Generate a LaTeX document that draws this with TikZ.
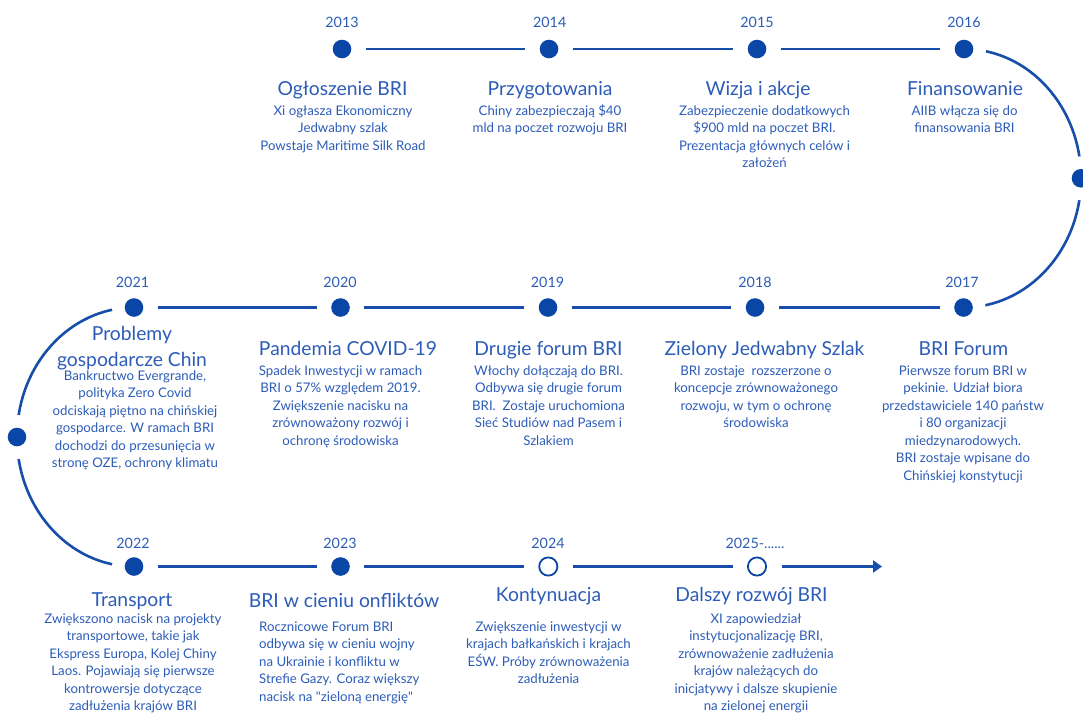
\documentclass[tikz,border=0pt]{standalone}
\usepackage{fontspec}
\setmainfont{Lato}
\usetikzlibrary{arrows.meta}
\definecolor{txt}{RGB}{44,92,184}
\definecolor{dotc}{RGB}{10,70,166}
\definecolor{linec}{RGB}{22,78,170}
\pgfdeclarelayer{bg}
\pgfsetlayers{bg,main}
\tikzset{
  yearlbl/.style={font=\fontsize{14.3}{16}\selectfont, text=txt, anchor=base, inner sep=0pt},
  ttl/.style={font=\fontsize{19.3}{26}\selectfont, text=txt, anchor=base, align=center, inner sep=0pt},
  bodytxt/.style={font=\fontsize{13.25}{17.5}\selectfont, text=txt, anchor=base, align=center, inner sep=0pt},
  fdot/.style={circle, fill=dotc, minimum size=18.6, inner sep=0pt, outer sep=0pt},
  hdot/.style={circle, draw=dotc, line width=1.8pt, minimum size=18.2, inner sep=0pt},
  conn/.style={draw=linec, line width=2.6pt, shorten <=14.5pt, shorten >=14.5pt},
  arc/.style={draw=linec, line width=2.6pt},
  halo/.style={fill=white}
}
\begin{document}
\begin{tikzpicture}[x=1pt,y=-1pt]
\useasboundingbox (0,0) rectangle (1083,716);
% ---------- dots ----------
\node[fdot] (d2013) at (342,49) {};
\node[fdot] (d2014) at (549,49) {};
\node[fdot] (d2015) at (757,49) {};
\node[fdot] (d2016) at (964,49) {};
\node[fdot] (dR) at (1081,178.25) {};
\node[fdot] (d2017) at (963.5,307.5) {};
\node[fdot] (d2018) at (755,307.5) {};
\node[fdot] (d2019) at (548,307.5) {};
\node[fdot] (d2020) at (340.5,307.5) {};
\node[fdot] (d2021) at (134,307.5) {};
\node[fdot] (dL) at (17,437) {};
\node[fdot] (d2022) at (134,566.5) {};
\node[fdot] (d2023) at (340.5,566.5) {};
\node[hdot] (d2024) at (548.3,566.5) {};
\node[hdot] (d2025) at (757,566.5) {};
\coordinate (arrowend) at (882,566.5);
% ---------- straight connectors ----------
\draw[conn] (d2013) -- (d2014);
\draw[conn] (d2014) -- (d2015);
\draw[conn] (d2015) -- (d2016);
\draw[conn] (d2017) -- (d2018);
\draw[conn] (d2018) -- (d2019);
\draw[conn] (d2019) -- (d2020);
\draw[conn] (d2020) -- (d2021);
\draw[conn] (d2022) -- (d2023);
\draw[conn] (d2023) -- (d2024);
\draw[conn] (d2024) -- (d2025);
\draw[conn, shorten >=0pt, -{Triangle[length=9pt,width=12pt]}] (d2025) -- (arrowend);
% ---------- curved connectors ----------
\begin{pgfonlayer}{bg}
\draw[arc] (d2016.center) .. controls +(64.6,0) and +(0,-71.4) .. (dR.center);
\draw[arc] (dR.center) .. controls +(0,71.4) and +(64.6,0) .. (d2017.center);
\draw[arc] (d2021.center) .. controls +(-64.6,0) and +(0,-71.5) .. (dL.center);
\draw[arc] (dL.center) .. controls +(0,71.5) and +(-64.6,0) .. (d2022.center);
\foreach \d in {d2016,dR,d2017,d2021,dL,d2022}
  \fill[halo] (\d.center) circle (22);
\end{pgfonlayer}
% ---------- years ----------
\node[yearlbl] (y2013) at (342,27) {2013};
\node[yearlbl] (y2014) at (549.7,27) {2014};
\node[yearlbl] (y2015) at (757,27) {2015};
\node[yearlbl] (y2016) at (964,27) {2016};
\node[yearlbl] (y2021) at (132.5,287) {2021};
\node[yearlbl] (y2020) at (340,287) {2020};
\node[yearlbl] (y2019) at (547.5,287) {2019};
\node[yearlbl] (y2018) at (755,287) {2018};
\node[yearlbl] (y2017) at (962,287) {2017};
\node[yearlbl] (y2022) at (133,548) {2022};
\node[yearlbl] (y2023) at (340,548) {2023};
\node[yearlbl] (y2024) at (548,548) {2024};
\node[yearlbl] (y2025) at (755,548) {2025-......};
% ---------- top row (base = last line) ----------
\node[ttl] (t2013) at (342.5,95) {Ogłoszenie BRI};
\node[bodytxt] (b2013) at (343,150) {Xi ogłasza Ekonomiczny\\Jedwabny szlak\\Powstaje Maritime Silk Road};
\node[ttl] (t2014) at (550,95) {Przygotowania};
\node[bodytxt] (b2014) at (550,132.5) {Chiny zabezpieczają \$40\\mld na poczet rozwoju BRI};
\node[ttl] (t2015) at (758,95) {Wizja i akcje};
\node[bodytxt] (b2015) at (764.5,167.5) {Zabezpieczenie dodatkowych\\\$900 mld na poczet BRI.\\Prezentacja głównych celów i\\założeń};
\node[ttl] (t2016) at (965,95) {Finansowanie};
\node[bodytxt] (b2016) at (964.5,132.5) {AIIB włącza się do\\finansowania BRI};
% ---------- middle row ----------
\node[ttl] (t2021) at (132,366) {Problemy\\gospodarcze Chin};
\node[bodytxt] (b2021) at (135,467.5) {Bankructwo Evergrande,\\polityka Zero Covid\\odciskają piętno na chińskiej\\gospodarce. W ramach BRI\\dochodzi do przesunięcia w\\stronę OZE, ochrony klimatu};
\node[ttl] (t2020) at (348,355) {Pandemia COVID-19};
\node[bodytxt] (b2020) at (340.5,445) {Spadek Inwestycji w ramach\\BRI o 57\% względem 2019.\\Zwiększenie nacisku na\\zrównoważony rozwój i\\ochronę środowiska};
\node[ttl] (t2019) at (548.5,355) {Drugie forum BRI};
\node[bodytxt] (b2019) at (548.5,445) {Włochy dołączają do BRI.\\Odbywa się drugie forum\\BRI.\ \ Zostaje uruchomiona\\Sieć Studiów nad Pasem i\\Szlakiem};
\node[ttl] (t2018) at (764.5,355) {Zielony Jedwabny Szlak};
\node[bodytxt] (b2018) at (756,427.5) {BRI zostaje\ \ rozszerzone o\\koncepcje zrównoważonego\\rozwoju, w tym o ochronę\\środowiska};
\node[ttl] (t2017) at (963.5,355) {BRI Forum};
\node[bodytxt] (b2017) at (963,480) {Pierwsze forum BRI w\\pekinie. Udział biora\\przedstawiciele 140 państw\\i 80 organizacji\\miedzynarodowych.\\BRI zostaje wpisane do\\Chińskiej konstytucji};
% ---------- bottom row ----------
\node[ttl] (t2022) at (132,606) {Transport};
\node[bodytxt] (b2022) at (133,710.8) {Zwiększono nacisk na projekty\\transportowe, takie jak\\Ekspress Europa, Kolej Chiny\\Laos. Pojawiają się pierwsze\\kontrowersje dotyczące\\zadłużenia krajów BRI};
\node[ttl] (t2023) at (344,607) {BRI w cieniu onfliktów};
\node[bodytxt, align=left, anchor=base west] (b2023) at (259,701) {Rocznicowe Forum BRI\\odbywa się w cieniu wojny\\na Ukrainie i konfliktu w\\Strefie Gazy. Coraz większy\\nacisk na \textquotedbl zieloną energię\textquotedbl};
\node[ttl] (t2024) at (548.5,601.7) {Kontynuacja};
\node[bodytxt] (b2024) at (548.5,683.5) {Zwiększenie inwestycji w\\krajach bałkańskich i krajach\\EŚW. Próby zrównoważenia\\zadłużenia};
\node[ttl] (t2025) at (751.5,601.7) {Dalszy rozwój BRI};
\node[bodytxt] (b2025) at (756,710.8) {XI zapowiedział\\instytucjonalizację BRI,\\zrównoważenie zadłużenia\\krajów należących do\\inicjatywy i dalsze skupienie\\na zielonej energii};
\end{tikzpicture}
\end{document}
